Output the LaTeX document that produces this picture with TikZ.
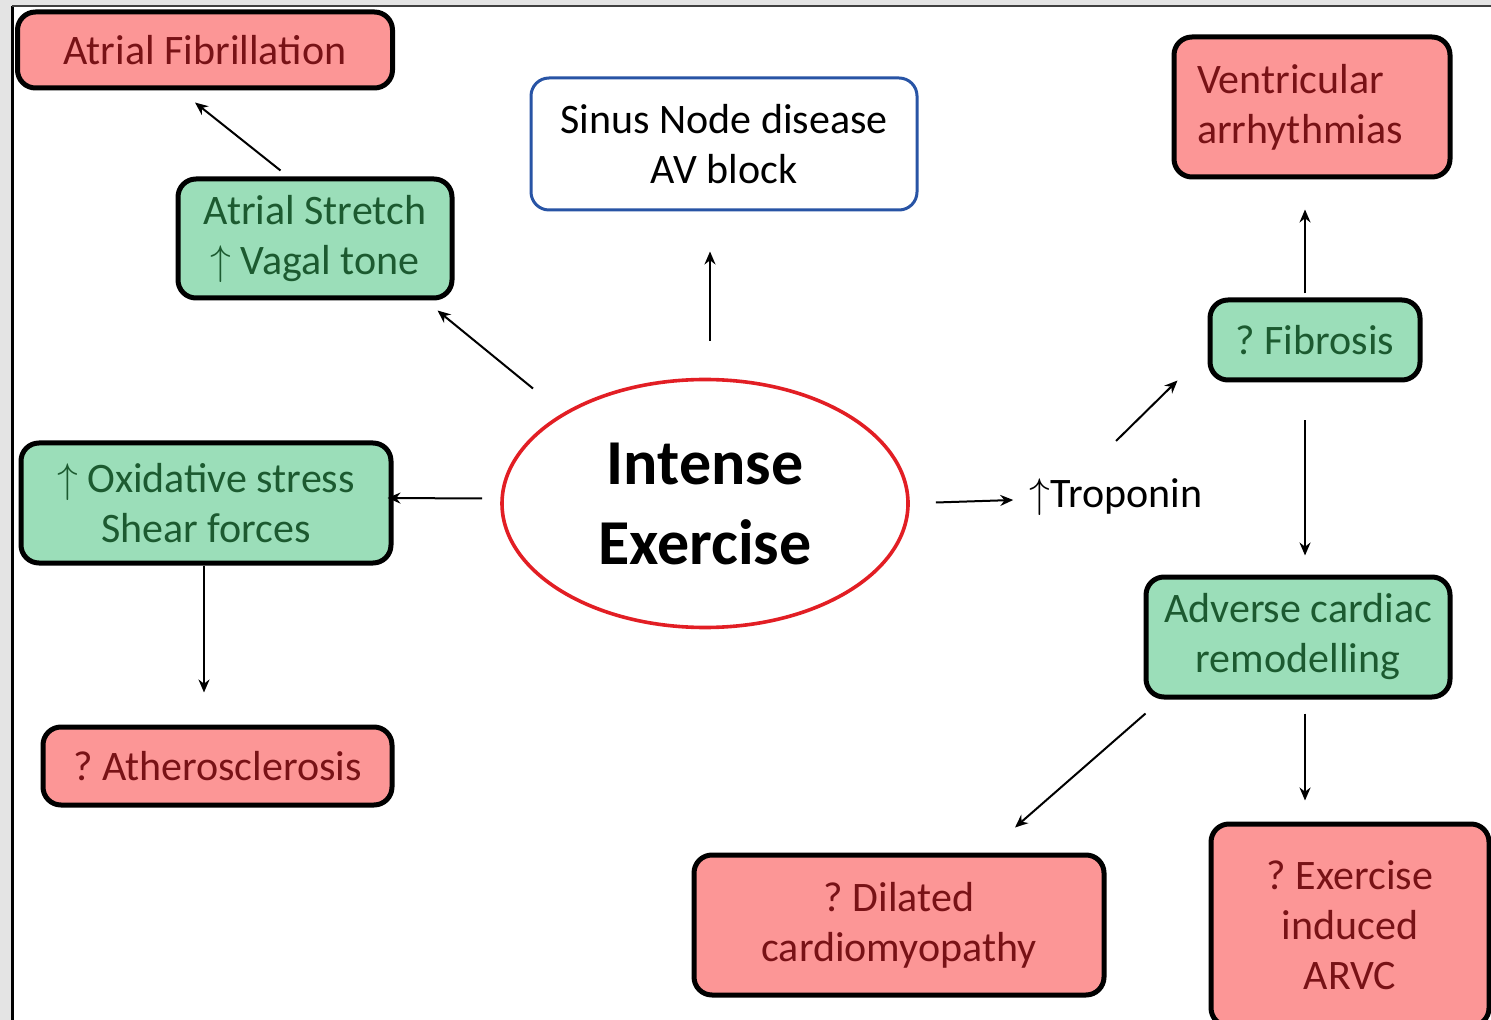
\documentclass[tikz,border=0pt]{standalone}
\usepackage{fontspec}
\setmainfont{Carlito}
\usetikzlibrary{arrows.meta,calc,shapes.geometric}
\definecolor{redfill}{RGB}{252,150,150}
\definecolor{redtext}{RGB}{120,18,22}
\definecolor{greenfill}{RGB}{155,222,185}
\definecolor{greentext}{RGB}{28,90,48}
\definecolor{bluebord}{RGB}{40,84,165}
\definecolor{ellred}{RGB}{226,30,36}
\definecolor{bggray}{RGB}{228,228,228}
\newcommand{\boxfont}{\fontsize{21}{25}\selectfont}
\tikzset{
  basebox/.style={draw=black, line width=2.5pt, rounded corners=9pt, inner sep=0pt, align=center, font=\boxfont},
  redbox/.style={basebox, fill=redfill, text=redtext},
  greenbox/.style={basebox, fill=greenfill, text=greentext},
  arr/.style={-{Stealth[length=6.5pt,width=5.5pt]}, line width=1pt, black},
}
\begin{document}
\frenchspacing
\begin{tikzpicture}[x=0.5pt,y=-0.5pt]
\useasboundingbox (0,0) rectangle (1491,1020);
\clip (0,0) rectangle (1491,1020);
% background frame
\fill[bggray] (0,0) rectangle (1491,1020);
\fill[white] (12,6) rectangle (1491,1020);
\draw[line width=1.5pt, black] (12,1020) -- (12,6);
\draw[line width=0.8pt, black!75] (12,6) -- (1491,6);

% nodes
\node[redbox, minimum width=187.5pt, minimum height=38pt] (af) at (205,50) {Atrial Fibrillation};
\node[greenbox, minimum width=137pt, minimum height=59.5pt] (as) at (315,238.5) {Atrial Stretch\\$\uparrow$ Vagal tone};
\node[draw=bluebord, line width=1.5pt, fill=white, rounded corners=9pt, inner sep=0pt, align=center, font=\boxfont, minimum width=193pt, minimum height=66pt] (sn) at (724,144) {Sinus Node disease\\AV block};
\node[redbox, align=left, text width=115pt, inner xsep=11.5pt, minimum width=138pt, minimum height=70pt] (va) at (1312,107) {Ventricular\\arrhythmias};
\node[greenbox, minimum width=105pt, minimum height=40pt] (fib) at (1315,340) {? Fibrosis};
\node[greenbox, minimum width=185pt, minimum height=60pt] (ox) at (206,503) {$\uparrow$ Oxidative stress\\Shear forces};
\node[redbox, minimum width=174.5pt, minimum height=39pt] (ath) at (217.5,766) {? Atherosclerosis};
\node[draw=ellred, line width=1.8pt, ellipse, minimum width=203pt, minimum height=124pt, inner sep=0pt, align=center, font=\bfseries\fontsize{32}{40}\selectfont] (ex) at (705,503.5) {Intense\\Exercise};
\node[inner sep=0pt, font=\boxfont, text=black] (tr) at (1116,497) {$\uparrow$Troponin};
\node[greenbox, minimum width=152pt, minimum height=60pt] (adv) at (1298,637) {Adverse cardiac\\remodelling};
\node[redbox, minimum width=205pt, minimum height=70pt] (dcm) at (899,925) {? Dilated\\cardiomyopathy};
\node[redbox, minimum width=139pt, minimum height=101pt] (arvc) at (1350,925) {? Exercise\\induced\\ARVC};

% connectors
\draw[arr] ($(as.north west)+(105,-6)$) -- ($(af.south west)+(180,12)$);
\draw[arr] ($(ex.center)+(-172,-115)$) -- ($(as.south east)+(-17,10)$);
\draw[arr] ($(ex.north)+(5,-37)$) -- ($(sn.south)+(-14,40)$);
\draw[arr] ($(ex.west)+(-18,-5)$) -- ($(ox.east)+(-6,-5)$);
\draw[arr] ($(ox.south)+(-2,0)$) -- ($(ath.north)+(-13.5,-32)$);
\draw[arr] ($(ex.east)+(26,-1)$) -- ($(tr.west)+(-16,3)$);
\draw[arr] ($(tr.center)+(0,-56)$) -- ($(fib.south west)+(-30,-2)$);
\draw[arr] ($(fib.north)+(-10,-4)$) -- ($(va.south)+(-7,30)$);
\draw[arr] ($(fib.south)+(-10,38)$) -- ($(adv.north)+(7,-19)$);
\draw[arr] ($(adv.south west)+(2,14)$) -- ($(dcm.north)+(116,-25)$);
\draw[arr] ($(adv.south)+(7,14)$) -- ($(arvc.north)+(-45,-21)$);
\end{tikzpicture}
\end{document}
